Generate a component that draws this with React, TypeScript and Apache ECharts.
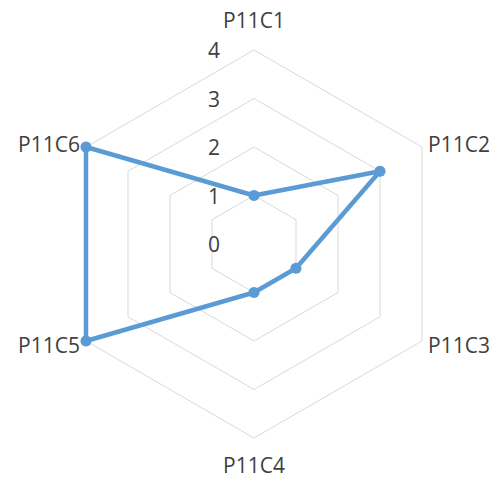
import React, { useEffect, useRef } from "react";
import * as echarts from "echarts";

const categories = ["P11C1", "P11C2", "P11C3", "P11C4", "P11C5", "P11C6"];
const values = [1, 3, 1, 1, 4, 4];
const maxValue = 4;

// ECharts lays radar indicators out counter-clockwise; the reference runs clockwise.
const order = [0, ...categories.map((_, i) => i).slice(1).reverse()];

export default function App() {
  const ref = useRef<HTMLDivElement>(null);
  useEffect(() => {
    const chart = echarts.init(ref.current!, null, { renderer: "svg" });
    const font = "'Open Sans', 'Noto Sans', sans-serif";
    chart.setOption({
      animation: false,
      backgroundColor: "#ffffff",
      radar: {
        center: [254, 244],
        radius: 194,
        startAngle: 90,
        splitNumber: 4,
        shape: "polygon",
        nameGap: 7,
        axisName: {
          color: "#404040",
          fontSize: 21,
          fontFamily: font,
          lineHeight: 40,
        },
        splitLine: { lineStyle: { color: "#d9d9d9", width: 1 } },
        splitArea: { show: false },
        axisLine: { show: false },
        axisTick: { show: false },
        axisLabel: { show: false },
        indicator: order.map((idx, i) =>
          i === 0
            ? {
                name: categories[idx],
                min: 0,
                max: maxValue,
                axisLabel: {
                  show: true,
                  color: "#404040",
                  fontSize: 21,
                  fontFamily: font,
                  margin: 34,
                  showMinLabel: true,
                  showMaxLabel: true,
                },
              }
            : { name: categories[idx], min: 0, max: maxValue }
        ),
      },
      series: [
        {
          type: "radar",
          symbol: "circle",
          symbolSize: 11,
          lineStyle: { color: "#5b9bd5", width: 4.5 },
          itemStyle: { color: "#5b9bd5" },
          data: [{ value: order.map((idx) => values[idx]) }],
        },
      ],
    });
    return () => chart.dispose();
  }, []);
  return (
    <div
      ref={ref}
      style={{ position: "fixed", left: 0, top: 0, width: 497, height: 479 }}
    />
  );
}
